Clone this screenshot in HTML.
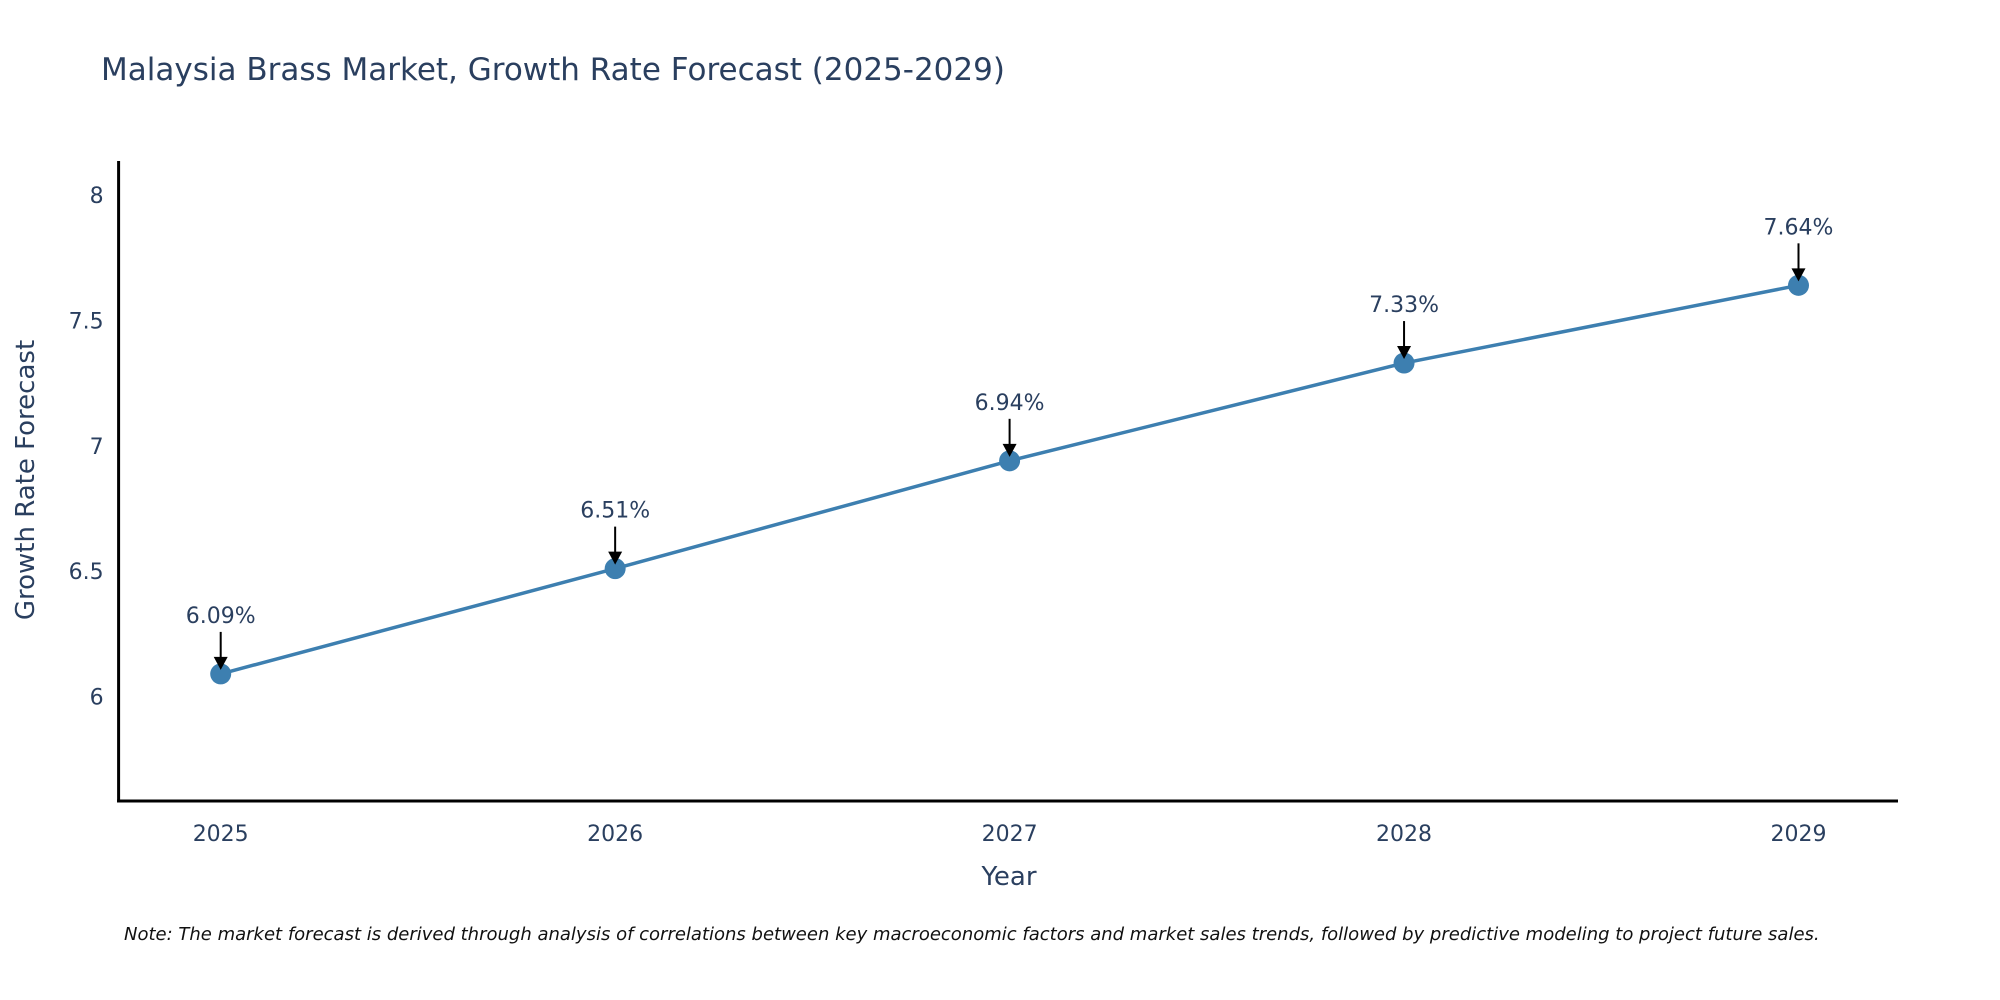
<!DOCTYPE html>
<html><head><meta charset="utf-8"><style>
body{margin:0;background:#fff;font-family:"DejaVu Sans","Liberation Sans",sans-serif}
svg{display:block;font-family:"DejaVu Sans","Liberation Sans",sans-serif}
</style></head><body>
<svg id="chart" width="2000" height="1000">
<text x="101" y="80" font-size="31" fill="#2a3f5f">Malaysia Brass Market, Growth Rate Forecast (2025-2029)</text>
<g id="plot"></g>
<text transform="translate(34,480) rotate(-90)" text-anchor="middle" font-size="26" fill="#2a3f5f">Growth Rate Forecast</text>
<text x="1009" y="885" text-anchor="middle" font-size="26" fill="#2a3f5f">Year</text>
<text x="124" y="940" font-size="18" font-style="italic" fill="#111">Note: The market forecast is derived through analysis of correlations between key macroeconomic factors and market sales trends, followed by predictive modeling to project future sales.</text>
</svg>
<script>
const years = [2025, 2026, 2027, 2028, 2029];
const growth = [6.09, 6.51, 6.94, 7.33, 7.64];
const yTicks = [6, 6.5, 7, 7.5, 8];
const yTickLabels = ["6", "6.5", "7", "7.5", "8"];

const NS = "http://www.w3.org/2000/svg";
const g = document.getElementById("plot");
const L = 118.6, R = 1898, T = 161, B = 801;
const yMin = 5.583, yMax = 8.136;
const xs = v => 220.7 + (v - years[0]) * (1798.5 - 220.7) / (years[years.length-1] - years[0]);
const ys = v => B - (v - yMin) / (yMax - yMin) * (B - T);
function mk(tag, attrs, parent) {
  const e = document.createElementNS(NS, tag);
  for (const k in attrs) e.setAttribute(k, attrs[k]);
  (parent || g).appendChild(e);
  return e;
}
yTicks.forEach((t, i) => {
  const e = mk("text", {x: L - 5 - 10, y: ys(t) + 8, "text-anchor": "end", "font-size": 22, fill: "#2a3f5f"});
  e.textContent = yTickLabels[i];
  
  
});
years.forEach(yv => {
  const e = mk("text", {x: xs(yv), y: B + 40, "text-anchor": "middle", "font-size": 22, fill: "#2a3f5f"});
  e.textContent = String(yv);
  
  
});
const ax1 = mk("line", {x1: L, y1: T, x2: L, y2: B + 1.5, stroke: "#000", "stroke-width": 3});


const ax2 = mk("line", {x1: L - 1.5, y1: B, x2: R, y2: B, stroke: "#000", "stroke-width": 3});


const pts = years.map((yv, i) => xs(yv) + "," + ys(growth[i])).join(" ");
const line = mk("polyline", {points: pts, fill: "none", stroke: "#3d7fb0", "stroke-width": 3.5});


years.forEach((yv, i) => {
  const cx = xs(yv), cy = ys(growth[i]);
  const c = mk("circle", {cx: cx, cy: cy, r: 10.5, fill: "#3d7fb0"});
  
  
  const a = mk("line", {x1: cx, y1: cy - 42, x2: cx, y2: cy - 14, stroke: "#000", "stroke-width": 2});
  
  
  const h = mk("polygon", {points: `${cx-7},${cy-17} ${cx+7},${cy-17} ${cx},${cy-4}`, fill: "#000"});
  
  
  const t = mk("text", {x: cx, y: cy - 51, "text-anchor": "middle", "font-size": 22, fill: "#2a3f5f"});
  t.textContent = growth[i].toFixed(2) + "%";
  
  
});
</script>
</body></html>
